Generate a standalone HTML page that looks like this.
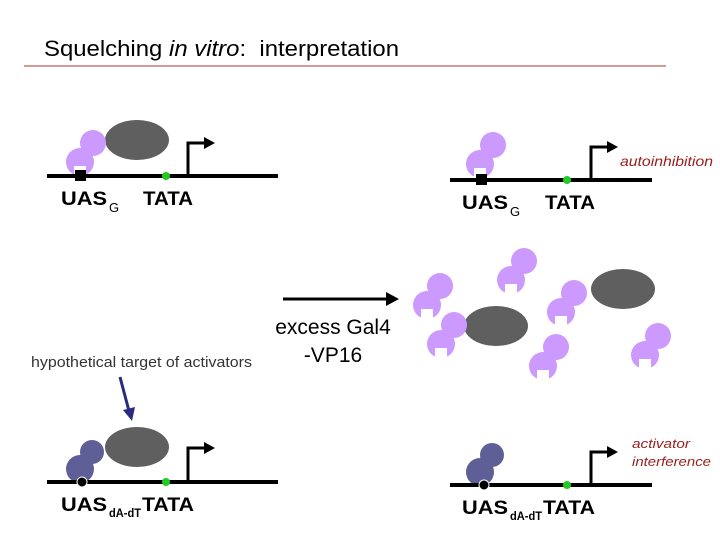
<!DOCTYPE html>
<html><head><meta charset="utf-8"><style>
body{margin:0;background:#fff;}
svg{display:block;font-family:"Liberation Sans",sans-serif;}
</style></head><body>
<svg width="720" height="540" viewBox="0 0 720 540" xmlns="http://www.w3.org/2000/svg">
<defs>
<g id="p">
<circle cx="13" cy="-19" r="13"/>
<circle cx="0" cy="0" r="14"/>
<rect x="-6" y="4" width="12" height="12" fill="#fff"/>
</g>
<g id="pd">
<circle cx="12" cy="-17" r="12"/>
<circle cx="0" cy="0" r="14"/>
</g>
</defs>
<text x="44" y="56" font-size="22" textLength="355" lengthAdjust="spacingAndGlyphs">Squelching <tspan font-style="italic">in vitro</tspan>:&#160; interpretation</text>
<line x1="24" y1="66" x2="666" y2="66" stroke="#b03030" stroke-width="1"/>

<!-- top left -->
<ellipse cx="137" cy="140" rx="32" ry="20" fill="#5f5f5f"/>
<g fill="#cc99ff"><use href="#p" x="80" y="162"/></g>
<line x1="47" y1="176" x2="278" y2="176" stroke="#000" stroke-width="4"/>
<rect x="75" y="170" width="11" height="11" fill="#000"/>
<circle cx="166" cy="176" r="4" fill="#22cc22"/>
<polyline points="188,176 188,143 206,143" fill="none" stroke="#000" stroke-width="3"/>
<polygon points="204,137 215,143 204,149" fill="#000"/>
<text x="61" y="205" font-size="19" font-weight="bold" textLength="46" lengthAdjust="spacingAndGlyphs">UAS</text>
<text x="109" y="212" font-size="13">G</text>
<text x="143" y="205" font-size="19" font-weight="bold" textLength="50" lengthAdjust="spacingAndGlyphs">TATA</text>

<!-- top right -->
<g fill="#cc99ff"><use href="#p" x="480" y="164"/></g>
<line x1="450" y1="180" x2="652" y2="180" stroke="#000" stroke-width="4"/>
<rect x="476" y="174" width="11" height="11" fill="#000"/>
<circle cx="567" cy="180" r="4" fill="#22cc22"/>
<polyline points="591,180 591,147 609,147" fill="none" stroke="#000" stroke-width="3"/>
<polygon points="607,141 618,147 607,153" fill="#000"/>
<text x="620" y="166" font-size="14" font-style="italic" fill="#9b1c1c" textLength="93" lengthAdjust="spacingAndGlyphs">autoinhibition</text>
<text x="462" y="209" font-size="19" font-weight="bold" textLength="46" lengthAdjust="spacingAndGlyphs">UAS</text>
<text x="510" y="216" font-size="13">G</text>
<text x="545" y="209" font-size="19" font-weight="bold" textLength="50" lengthAdjust="spacingAndGlyphs">TATA</text>

<!-- middle -->
<line x1="283" y1="299" x2="388" y2="299" stroke="#000" stroke-width="3"/>
<polygon points="386,292 399,299 386,306" fill="#000"/>
<text x="333" y="334" font-size="21" text-anchor="middle">excess Gal4</text>
<text x="333" y="362" font-size="21" text-anchor="middle">-VP16</text>
<text x="31" y="367" font-size="15" fill="#333" textLength="221" lengthAdjust="spacingAndGlyphs">hypothetical target of activators</text>
<line x1="120" y1="377" x2="129" y2="411" stroke="#2a2a80" stroke-width="3"/>
<polygon points="123,410 132,421 135,407" fill="#2a2a80"/>

<ellipse cx="496" cy="326" rx="32" ry="20" fill="#5f5f5f"/>
<ellipse cx="623" cy="289" rx="32" ry="20" fill="#5f5f5f"/>
<g fill="#cc99ff">
<use href="#p" x="427" y="305"/>
<use href="#p" x="511" y="280"/>
<use href="#p" x="561" y="312"/>
<use href="#p" x="441" y="344"/>
<use href="#p" x="543" y="366"/>
<use href="#p" x="645" y="355"/>
</g>

<!-- bottom left -->
<ellipse cx="137" cy="447" rx="32" ry="20" fill="#5f5f5f"/>
<g fill="#5f5f97"><use href="#pd" x="80" y="469"/></g>
<line x1="47" y1="482" x2="278" y2="482" stroke="#000" stroke-width="4"/>
<circle cx="82" cy="482" r="5" fill="#000" stroke="#fff" stroke-width="1"/>
<circle cx="166" cy="482" r="4" fill="#22cc22"/>
<polyline points="188,482 188,448 206,448" fill="none" stroke="#000" stroke-width="3"/>
<polygon points="204,442 215,448 204,454" fill="#000"/>
<text x="61" y="511" font-size="19" font-weight="bold" textLength="46" lengthAdjust="spacingAndGlyphs">UAS</text>
<text x="109" y="517" font-size="12" font-weight="bold" textLength="32" lengthAdjust="spacingAndGlyphs">dA-dT</text>
<text x="142" y="511" font-size="19" font-weight="bold" textLength="52" lengthAdjust="spacingAndGlyphs">TATA</text>

<!-- bottom right -->
<g fill="#5f5f97"><use href="#pd" x="480" y="472"/></g>
<line x1="450" y1="485" x2="652" y2="485" stroke="#000" stroke-width="4"/>
<circle cx="484" cy="485" r="5" fill="#000" stroke="#fff" stroke-width="1"/>
<circle cx="567" cy="485" r="4" fill="#22cc22"/>
<polyline points="591,485 591,452 609,452" fill="none" stroke="#000" stroke-width="3"/>
<polygon points="607,446 618,452 607,458" fill="#000"/>
<text x="632" y="448" font-size="13" font-style="italic" fill="#9b1c1c" textLength="58" lengthAdjust="spacingAndGlyphs">activator</text>
<text x="632" y="466" font-size="13" font-style="italic" fill="#9b1c1c" textLength="79" lengthAdjust="spacingAndGlyphs">interference</text>
<text x="462" y="514" font-size="19" font-weight="bold" textLength="46" lengthAdjust="spacingAndGlyphs">UAS</text>
<text x="510" y="520" font-size="12" font-weight="bold" textLength="32" lengthAdjust="spacingAndGlyphs">dA-dT</text>
<text x="543" y="514" font-size="19" font-weight="bold" textLength="52" lengthAdjust="spacingAndGlyphs">TATA</text>
</svg>
</body></html>
